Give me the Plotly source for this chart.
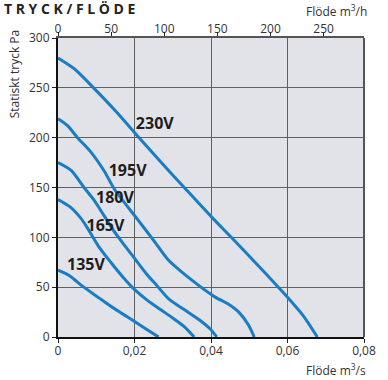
import plotly.graph_objects as go

# Fan curves: static pressure (Pa) against airflow (m³/s) for each supply voltage
voltages = ["230V", "195V", "180V", "165V", "135V"]

flow_230 = [0, 0.0043, 0.0093, 0.0150, 0.0212, 0.0270, 0.0330, 0.0400, 0.0453, 0.0520, 0.0576, 0.0600, 0.0640, 0.0678]
pres_230 = [280, 269, 250, 227, 200, 175, 150, 121, 100, 73, 50, 40, 22, 0]

flow_195 = [0, 0.0025, 0.0051, 0.0085, 0.0120, 0.0148, 0.0208, 0.0250, 0.0288, 0.0350, 0.0411, 0.0445, 0.0475, 0.0498, 0.0513]
pres_195 = [219, 212, 200, 186, 167, 148, 118, 97, 77.5, 57, 40, 33, 24, 12, 0]

flow_180 = [0, 0.0035, 0.0068, 0.0093, 0.0120, 0.0145, 0.0168, 0.0200, 0.0232, 0.0260, 0.0290, 0.0332, 0.0370, 0.0398, 0.0415]
pres_180 = [175, 167, 150, 138, 122, 107, 95, 79, 63, 51, 38, 27, 17, 8, 0]

flow_165 = [0, 0.0030, 0.0060, 0.0076, 0.0106, 0.0140, 0.0170, 0.0199, 0.0233, 0.0270, 0.0300, 0.0330, 0.0356]
pres_165 = [138, 131, 119, 110, 91, 74, 60, 48, 37, 27, 19, 10.5, 0]

flow_135 = [0, 0.0030, 0.0064, 0.0106, 0.0145, 0.0182, 0.0220, 0.0263]
pres_135 = [67, 61.5, 51, 39.5, 29, 20, 10.5, 0]

# Curve label anchor points (flow, pressure)
label_flow = [0.0253, 0.0182, 0.0149, 0.0124, 0.0073]
label_pres = [212.6, 165.4, 138, 110.8, 71.4]

# Axis ticks
x_ticks = [0, 0.02, 0.04, 0.06, 0.08]
x_ticktext = ["0", "0,02", "0,04", "0,06", "0,08"]
top_ticks = [0, 50, 100, 150, 200, 250]
y_ticks = [0, 50, 100, 150, 200, 250, 300]

W, H = 388, 380
L, R, T, B = 58, 15, 38, 43
PW, PH = W - L - R, H - T - B


def paper_x(xp):
    return (xp - L) / PW


def paper_y(yp):
    return (H - B - yp) / PH


BLUE = "#1a7cc2"
FONT = "Open Sans"
TXT = "#333333"

fig = go.Figure()

series = [
    (flow_230, pres_230),
    (flow_195, pres_195),
    (flow_180, pres_180),
    (flow_165, pres_165),
    (flow_135, pres_135),
]
for name, (fx, py_) in zip(voltages, series):
    fig.add_trace(go.Scatter(
        x=fx, y=py_, mode="lines", name=name,
        line=dict(color=BLUE, width=3, shape="spline", smoothing=0.7),
        showlegend=False, hoverinfo="skip",
    ))

fig.add_trace(go.Scatter(
    x=label_flow, y=label_pres, mode="text", text=voltages,
    textfont=dict(family=FONT, size=16, color="#1e1e1e", weight="bold"),
    textposition="middle center", showlegend=False, hoverinfo="skip",
))

# invisible trace that carries the m³/h scale on top
fig.add_trace(go.Scatter(
    x=[0, 288], y=[None, None], xaxis="x2", yaxis="y",
    mode="markers", showlegend=False, hoverinfo="skip",
))

fig.update_layout(
    width=W, height=H,
    margin=dict(l=L, r=R, t=T, b=B),
    paper_bgcolor="white",
    plot_bgcolor="#e1e3e8",
    font=dict(family=FONT, size=12, color=TXT),
    xaxis=dict(
        range=[0, 0.08], tickvals=x_ticks, ticktext=x_ticktext,
        showgrid=True, gridcolor="#606060", gridwidth=1.3,
        ticks="outside", ticklen=4, tickwidth=1.3, tickcolor="#222",
        showline=True, linecolor="#111", linewidth=2, zeroline=False,
        ticklabelstandoff=-2,
        tickfont=dict(family=FONT, size=12, color=TXT),
    ),
    xaxis2=dict(
        range=[0, 288], overlaying="x", side="top", tickvals=top_ticks,
        showgrid=False, ticks="outside", ticklen=4, tickwidth=1.3, tickcolor="#222",
        showline=True, linecolor="#555", linewidth=2, zeroline=False,
        ticklabelstandoff=-6,
        tickfont=dict(family=FONT, size=12, color=TXT),
    ),
    yaxis=dict(
        range=[0, 300], tickvals=y_ticks,
        showgrid=True, gridcolor="#606060", gridwidth=1.3,
        ticks="outside", ticklen=4, tickwidth=1.3, tickcolor="#222",
        showline=True, linecolor="#111", linewidth=2, zeroline=False,
        tickfont=dict(family=FONT, size=12, color=TXT),
    ),
    shapes=[
        dict(type="line", xref="paper", yref="paper", x0=1, x1=1, y0=0, y1=1,
             line=dict(color="#555", width=2)),
    ],
    annotations=[
        dict(text="<b>T R Y C K / F L Ö D E</b>", xref="paper", yref="paper",
             x=paper_x(0), y=paper_y(8), xanchor="left", yanchor="middle",
             showarrow=False, font=dict(family=FONT, size=14, color="#222")),
        dict(text="Statiskt tryck Pa", xref="paper", yref="paper",
             x=paper_x(13), y=paper_y(74), xanchor="center", yanchor="middle",
             textangle=-90, showarrow=False, font=dict(family=FONT, size=12, color=TXT)),
        dict(text="Flöde m<sup>3</sup>/h", xref="paper", yref="paper",
             x=paper_x(378), y=paper_y(11), xanchor="right", yanchor="middle",
             showarrow=False, font=dict(family=FONT, size=12, color=TXT)),
        dict(text="Flöde m<sup>3</sup>/s", xref="paper", yref="paper",
             x=paper_x(377), y=paper_y(370), xanchor="right", yanchor="middle",
             showarrow=False, font=dict(family=FONT, size=12, color=TXT)),
    ],
)

fig.write_html("out.html")
